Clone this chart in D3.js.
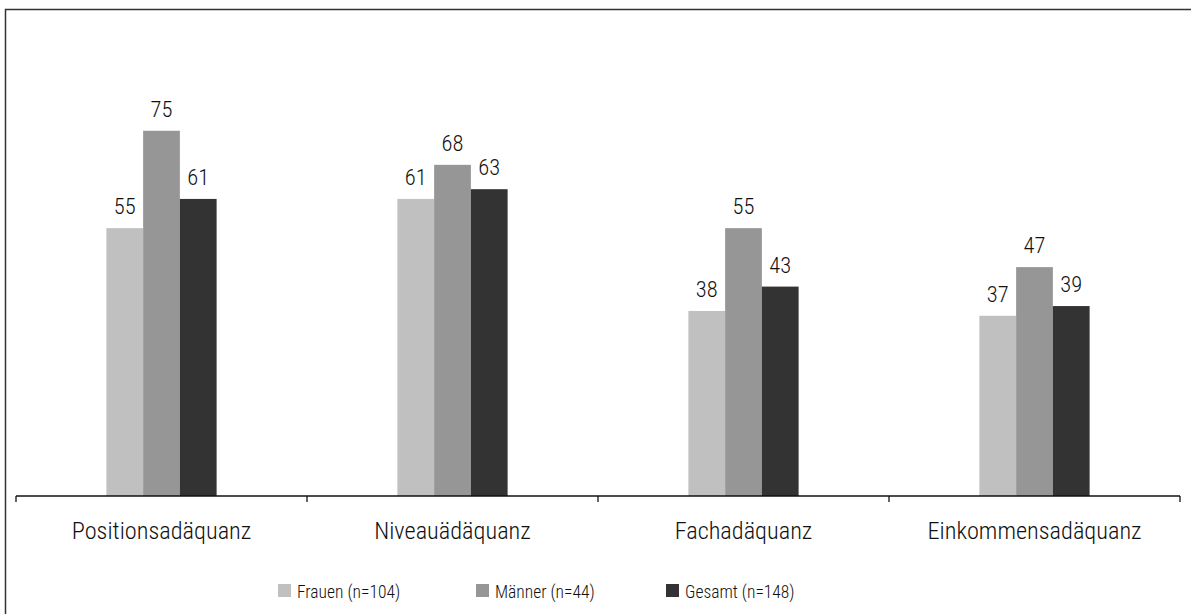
<!DOCTYPE html>
<html>
<head>
<meta charset="utf-8">
<script src="https://cdn.jsdelivr.net/npm/d3@7"></script>
<style>
  html, body { margin: 0; padding: 0; background: #fff; }
  svg { display: block; }
</style>
</head>
<body>
<svg id="chart" width="1191" height="614"></svg>
<script>
// Categories and series
const categories = ["Positionsadäquanz", "Niveauädäquanz", "Fachadäquanz", "Einkommensadäquanz"];
const seriesNames = ["Frauen (n=104)", "Männer (n=44)", "Gesamt (n=148)"];
const frauen = [55, 61, 38, 37];
const maenner = [75, 68, 55, 47];
const gesamt = [61, 63, 43, 39];
const seriesColors = ["#c0c0c0", "#969696", "#333333"];

const seriesValues = [frauen, maenner, gesamt];
const rows = categories.map((c, i) => ({
  category: c,
  values: seriesNames.map((s, j) => ({ series: s, value: seriesValues[j][i] }))
}));

const svg = d3.select("#chart")
  .attr("font-family", "'Roboto Condensed', Roboto, sans-serif")
  .attr("font-weight", 300);
const W = 1191, H = 614;
const textColor = "#111";

// Outer frame (right and bottom edges fall outside the canvas)
svg.append("rect")
  .attr("x", 5.5).attr("y", 9.5)
  .attr("width", W + 10).attr("height", H + 10)
  .attr("fill", "none").attr("stroke", "#333").attr("stroke-width", 1.5);

const plot = { left: 16, right: 1180, top: 9, bottom: 496 };

const x0 = d3.scaleBand().domain(categories).range([plot.left, plot.right]).padding(0);
const x1 = d3.scaleBand().domain(seriesNames).range([0, x0.bandwidth()])
  .paddingInner(0).paddingOuter(2.46);
const y = d3.scaleLinear().domain([0, 100]).range([plot.bottom, plot.top]);
const color = d3.scaleOrdinal().domain(seriesNames).range(seriesColors);

// Bars
const groups = svg.append("g").selectAll("g").data(rows).join("g")
  .attr("transform", d => `translate(${x0(d.category)},0)`);

groups.selectAll("rect").data(d => d.values).join("rect")
  .attr("x", d => x1(d.series))
  .attr("y", d => y(d.value))
  .attr("width", x1.bandwidth())
  .attr("height", d => y(0) - y(d.value))
  .attr("fill", d => color(d.series));

// Value labels
groups.selectAll("text").data(d => d.values).join("text")
  .attr("x", d => x1(d.series) + x1.bandwidth() / 2)
  .attr("y", d => y(d.value) - 14)
  .attr("text-anchor", "middle")
  .attr("font-size", 22.5)
  .attr("fill", textColor)
  .text(d => d.value);

// Category axis: baseline with ticks on the band boundaries
const axis = svg.append("g").attr("transform", `translate(0,${plot.bottom})`);
axis.call(d3.axisBottom(x0).tickSize(0).tickPadding(25.5))
  .call(g => g.select(".domain").remove())
  .call(g => g.selectAll("text")
    .attr("font-size", 24.3)
    .attr("font-family", "'Roboto Condensed', Roboto, sans-serif")
    .attr("font-weight", 300)
    .attr("fill", textColor));

const boundaries = categories.map(c => x0(c)).concat([x0.range()[1]]);
axis.append("line")
  .attr("x1", plot.left).attr("x2", plot.right)
  .attr("stroke", "#111").attr("stroke-width", 1.3);
axis.selectAll("line.tick-b").data(boundaries).join("line")
  .attr("class", "tick-b")
  .attr("x1", d => d).attr("x2", d => d)
  .attr("y1", 0).attr("y2", 6)
  .attr("stroke", "#111").attr("stroke-width", 1.3);

// Legend
const legendX = [278, 476, 666];
const legend = svg.append("g").selectAll("g").data(seriesNames).join("g")
  .attr("transform", (d, i) => `translate(${legendX[i]},584)`);
legend.append("rect")
  .attr("width", 13).attr("height", 13)
  .attr("fill", d => color(d));
legend.append("text")
  .attr("x", 19).attr("y", 14)
  .attr("font-size", 17.5)
  .attr("fill", textColor)
  .text(d => d);
</script>
</body>
</html>
